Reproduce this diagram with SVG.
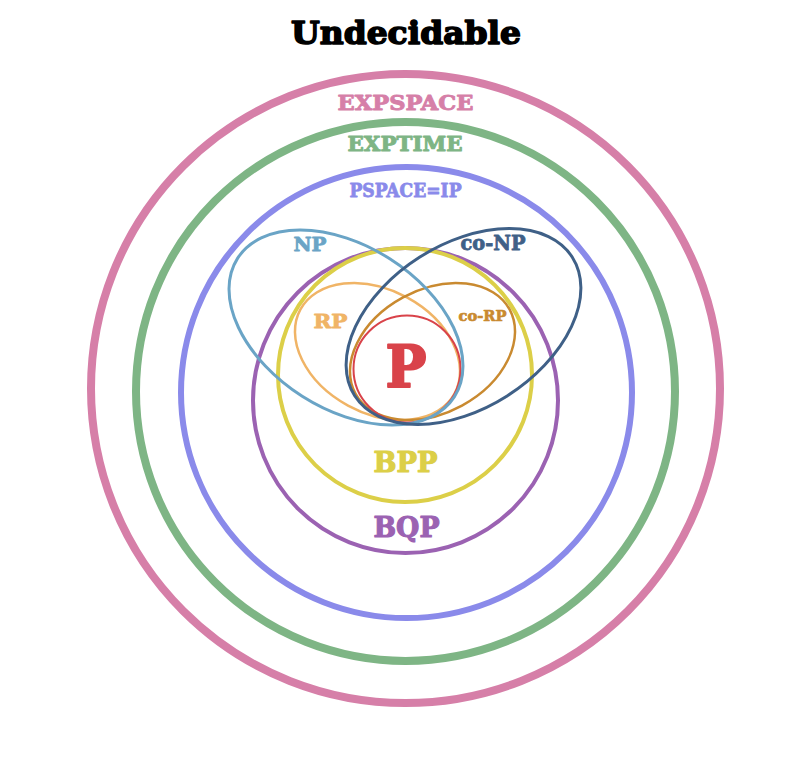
<svg xmlns="http://www.w3.org/2000/svg" width="787" height="762" viewBox="0 0 787 762">
<style>
  text { font-family: "DejaVu Serif", "Liberation Serif", serif; font-weight: bold; text-anchor: middle; stroke-linejoin: round; }
  .ring { fill: none; }
</style>
<rect width="787" height="762" fill="#ffffff"/>
<g id="undecidable">
  <text x="406" y="44" font-size="32" fill="#000000" stroke="#000000" stroke-width="1.6" textLength="230" lengthAdjust="spacingAndGlyphs">Undecidable</text>
</g>
<g id="expspace">
  <circle class="ring" cx="405.5" cy="388.5" r="314.5" stroke="#d67fa8" stroke-width="8"/>
  <text x="405.5" y="110" font-size="20.5" fill="#d67fa8" stroke="#d67fa8" stroke-width="0.9" textLength="136" lengthAdjust="spacingAndGlyphs">EXPSPACE</text>
</g>
<g id="exptime">
  <circle class="ring" cx="405.5" cy="391.5" r="269.5" stroke="#7eb585" stroke-width="8"/>
  <text x="405" y="151" font-size="19.5" fill="#7eb585" stroke="#7eb585" stroke-width="0.9" textLength="115" lengthAdjust="spacingAndGlyphs">EXPTIME</text>
</g>
<g id="pspace">
  <circle class="ring" cx="406.5" cy="392.5" r="225.5" stroke="#8a8aea" stroke-width="6"/>
  <text x="405.5" y="197" font-size="18" fill="#8a8aea" stroke="#8a8aea" stroke-width="0.8" textLength="112" lengthAdjust="spacingAndGlyphs">PSPACE=IP</text>
</g>
<g id="bqp">
  <circle class="ring" cx="405.5" cy="400.5" r="152.5" stroke="#9b62b2" stroke-width="4"/>
  <text x="406.5" y="537" font-size="27" fill="#9b62b2" stroke="#9b62b2" stroke-width="1.1" textLength="66" lengthAdjust="spacingAndGlyphs">BQP</text>
</g>
<g id="bpp">
  <circle class="ring" cx="405" cy="375" r="127" stroke="#dccf48" stroke-width="4"/>
  <text x="405.5" y="472" font-size="27" fill="#dccf48" stroke="#dccf48" stroke-width="1.1" textLength="64" lengthAdjust="spacingAndGlyphs">BPP</text>
</g>
<g id="rp">
  <ellipse class="ring" cx="377.5" cy="351.5" rx="87.8" ry="61.6" transform="rotate(28.6 377.5 351.5)" stroke="#f0b466" stroke-width="2.5"/>
  <text x="330.5" y="328" font-size="19" fill="#f0b466" stroke="#f0b466" stroke-width="0.8" textLength="34" lengthAdjust="spacingAndGlyphs">RP</text>
</g>
<g id="corp">
  <ellipse class="ring" cx="432.5" cy="351.5" rx="87.8" ry="61.6" transform="rotate(-28.6 432.5 351.5)" stroke="#c98a30" stroke-width="2.5"/>
  <text x="482.5" y="321" font-size="15" fill="#c98a30" stroke="#c98a30" stroke-width="0.7" textLength="48" lengthAdjust="spacingAndGlyphs">co-RP</text>
</g>
<g id="p">
  <circle class="ring" cx="407" cy="369" r="53.5" stroke="#d9434a" stroke-width="2"/>
  <text x="406" y="387" font-size="58" fill="#d9434a" stroke="#d9434a" stroke-width="2" textLength="41" lengthAdjust="spacingAndGlyphs">P</text>
</g>
<g id="np">
  <ellipse class="ring" cx="346" cy="327.5" rx="128.6" ry="81.5" transform="rotate(32.5 346 327.5)" stroke="#6aa4c6" stroke-width="3"/>
  <text x="310" y="251" font-size="19" fill="#6aa4c6" stroke="#6aa4c6" stroke-width="0.8" textLength="33" lengthAdjust="spacingAndGlyphs">NP</text>
</g>
<g id="conp">
  <ellipse class="ring" cx="463.5" cy="326.5" rx="129" ry="82" transform="rotate(-32.5 463.5 326.5)" stroke="#3f6087" stroke-width="3"/>
  <text x="493" y="250" font-size="20" fill="#3f6087" stroke="#3f6087" stroke-width="0.8" textLength="65" lengthAdjust="spacingAndGlyphs">co-NP</text>
</g>
<g id="connectors"></g>
</svg>
